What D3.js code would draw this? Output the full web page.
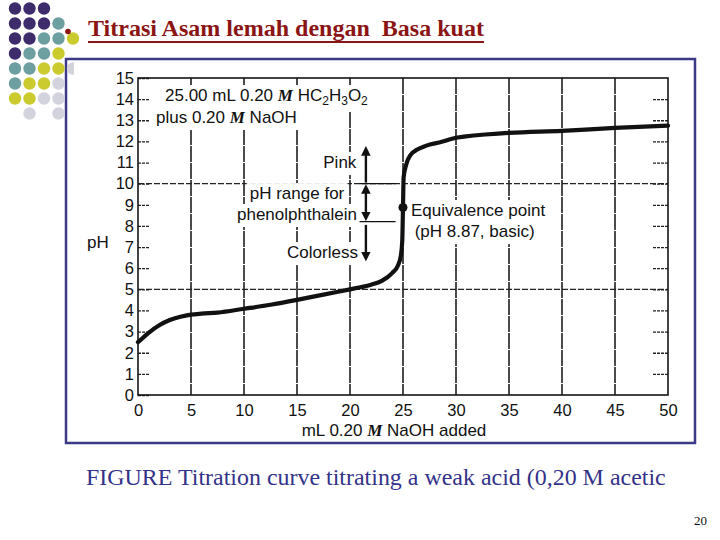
<!DOCTYPE html>
<html><head><meta charset="utf-8">
<script src="https://cdn.jsdelivr.net/npm/d3@7"></script>
<style>body{margin:0;background:#fff} svg{display:block}</style>
</head><body>
<svg id="c" width="720" height="540"></svg>
<script>
// ---- data ----
const naohAdded = [0, 0.5, 1, 2, 3, 4, 5, 6, 7.5, 10, 12.5, 15, 17.5, 20, 21, 22, 23, 24, 24.5, 24.8, 24.93, 25, 25.06, 25.3, 25.7, 26.3, 27.2, 28.5, 30, 35, 40, 45, 50];
const pHValues  = [2.5, 2.72, 2.94, 3.3, 3.55, 3.7, 3.8, 3.85, 3.9, 4.08, 4.27, 4.5, 4.75, 5.0, 5.1, 5.22, 5.4, 5.78, 6.1, 6.6, 7.3, 8.87, 10.3, 10.9, 11.35, 11.6, 11.8, 11.96, 12.17, 12.4, 12.5, 12.64, 12.75];
const xTickValues = [0, 5, 10, 15, 20, 25, 30, 35, 40, 45, 50];
const yTickValues = [0, 1, 2, 3, 4, 5, 6, 7, 8, 9, 10, 11, 12, 13, 14, 15];
const xGridValues = [5, 10, 15, 20, 25, 30, 35, 40, 45];
const yGridValues = [5, 10];
const equivalencePoint = [25, 8.87];
const indicatorRange = [8.2, 10];

const titleText = "Titrasi Asam lemah dengan  Basa kuat";
const captionText = "FIGURE Titration curve titrating a weak acid (0,20 M acetic";
const pageNumber = "20";

const svg = d3.select("#c");
const SANS = "'Liberation Sans', Arial, sans-serif";
const SERIF = "'Liberation Serif', 'Times New Roman', serif";

function fit(sel, target) {
  const w = sel.node().getComputedTextLength();
  const fs = parseFloat(sel.attr("font-size"));
  sel.attr("font-size", fs * target / w);
}

// ---- slide frame ----
svg.append("rect").attr("x", 66).attr("y", 59).attr("width", 629).attr("height", 384)
  .attr("fill", "#fff").attr("stroke", "#3c3a86").attr("stroke-width", 2.5);

// ---- decorative dot grid ----
const dotPattern = ["PPP..", "PPPT.", "PPTTY", "PTTY.", "TTYYL", "TYYL.", "YYLL.", ".L.L."];
const dotColors = {P: "#3d2b6c", T: "#6d9fa0", Y: "#cbcb2f", L: "#d3d3de"};
const dots = [];
dotPattern.forEach((row, r) => row.split("").forEach((c, k) => { if (c !== ".") dots.push({r, k, c}); }));
svg.append("g").selectAll("circle").data(dots).join("circle")
  .attr("cx", d => 15 + d.k * 14.5).attr("cy", d => 8.5 + d.r * 15)
  .attr("r", 6.2).attr("fill", d => dotColors[d.c]);
// scanned chart image covers part of the grid
svg.append("rect").attr("x", 74).attr("y", 61).attr("width", 619).attr("height", 380).attr("fill", "#fff");

// ---- title ----
svg.append("circle").attr("cx", 68).attr("cy", 31.5).attr("r", 2.8).attr("fill", "#8b1414");
const title = svg.append("text").attr("x", 88).attr("y", 36)
  .attr("font-family", SERIF).attr("font-weight", "bold").attr("font-size", 20)
  .attr("fill", "#8b1414").style("white-space", "pre").text(titleText);
fit(title, 396);
svg.append("line").attr("x1", 88).attr("x2", 484).attr("y1", 42).attr("y2", 42)
  .attr("stroke", "#8b1414").attr("stroke-width", 1.8);

// ---- chart ----
const x = d3.scaleLinear().domain([0, 50]).range([138, 668]);
const y = d3.scaleLinear().domain([0, 15]).range([395, 78]);
const g = svg.append("g");

// gridlines
g.selectAll(".vg").data(xGridValues).join("line")
  .attr("x1", d => x(d)).attr("x2", d => x(d)).attr("y1", y(15)).attr("y2", y(0))
  .attr("stroke", "#111").attr("stroke-width", 1.5).attr("stroke-dasharray", "16,1");
g.selectAll(".hg").data(yGridValues).join("line")
  .attr("x1", x(0)).attr("x2", x(50)).attr("y1", d => y(d)).attr("y2", d => y(d))
  .attr("stroke", "#222").attr("stroke-width", 1.3).attr("stroke-dasharray", "6,2");
const knock = g.append("g");

// axes
const left = g.append("g").attr("transform", `translate(${x(0)},0)`)
  .call(d3.axisLeft(y).tickValues(yTickValues).tickSizeInner(-12).tickSizeOuter(0).tickPadding(4));
const right = g.append("g").attr("transform", `translate(${x(50)},0)`)
  .call(d3.axisRight(y).tickValues(yTickValues.filter(v => v > 0 && v < 15)).tickSizeInner(-16).tickSizeOuter(0).tickFormat(""));
const bottom = g.append("g").attr("transform", `translate(0,${y(0)})`)
  .call(d3.axisBottom(x).tickValues(xTickValues).tickSize(0).tickPadding(9));
[left, right, bottom].forEach(a => {
  a.select(".domain").remove();
  a.selectAll(".tick line").attr("stroke", "#222").attr("stroke-width", 1.3).attr("stroke-dasharray", "3,1");
  a.selectAll(".tick text").attr("font-family", SANS).attr("font-size", 16.5).attr("fill", "#111");
});

// plot border
g.append("rect").attr("x", x(0)).attr("y", y(15)).attr("width", x(50) - x(0)).attr("height", y(0) - y(15))
  .attr("fill", "none").attr("stroke", "#151515").attr("stroke-width", 1.6);

// titration curve
const pts = naohAdded.map((v, i) => [v, pHValues[i]]);
g.append("path").datum(pts)
  .attr("d", d3.line().x(d => x(d[0])).y(d => y(d[1])).curve(d3.curveMonotoneX))
  .attr("fill", "none").attr("stroke", "#111").attr("stroke-width", 4.2)
  .attr("stroke-linecap", "round").attr("stroke-linejoin", "round");
g.append("circle").attr("cx", x(equivalencePoint[0])).attr("cy", y(equivalencePoint[1]))
  .attr("r", 4.5).attr("fill", "#111");

// indicator range markings
g.selectAll(".rl").data(indicatorRange).join("line")
  .attr("x1", x(20.9)).attr("x2", x(24.3)).attr("y1", d => y(d)).attr("y2", d => y(d))
  .attr("stroke", "#111").attr("stroke-width", 1.3);

const defs = svg.append("defs");
defs.append("marker").attr("id", "ah").attr("viewBox", "0 0 10 10").attr("refX", 5).attr("refY", 5)
  .attr("markerWidth", 4).attr("markerHeight", 4).attr("orient", "auto-start-reverse").attr("markerUnits", "strokeWidth")
  .append("path").attr("d", "M0,0 L10,5 L0,10 Z").attr("fill", "#111");
const ax = x(21.5);
function arrow(p1, p2, both) {
  const l = g.append("line").attr("x1", ax).attr("x2", ax).attr("y1", y(p1)).attr("y2", y(p2))
    .attr("stroke", "#111").attr("stroke-width", 2.4).attr("marker-end", "url(#ah)");
  if (both) l.attr("marker-start", "url(#ah)");
}
arrow(10.05, 11.55, false);
arrow(9.75, 8.45, true);
arrow(8.05, 6.55, false);

// annotation text (with white knock-out behind, as in the scanned figure)
const annotations = [];
function ann(xv, yv, anchor) {
  const t = g.append("text").attr("x", x(xv)).attr("y", y(yv)).attr("dy", "0.36em")
    .attr("text-anchor", anchor).attr("font-family", SANS).attr("font-size", 17).attr("fill", "#111");
  annotations.push(t);
  return t;
}
function italicM(t) {
  t.append("tspan").attr("font-family", SERIF).attr("font-style", "italic").attr("font-weight", "bold").text("M");
}
const a1 = ann(2.55, 14.2, "start");
a1.append("tspan").text("25.00 mL 0.20 ");
italicM(a1);
a1.append("tspan").text(" HC");
a1.append("tspan").attr("font-size", 12).attr("dy", 4).text("2");
a1.append("tspan").attr("dy", -4).text("H");
a1.append("tspan").attr("font-size", 12).attr("dy", 4).text("3");
a1.append("tspan").attr("dy", -4).text("O");
a1.append("tspan").attr("font-size", 12).attr("dy", 4).text("2");
const a2 = ann(1.7, 13.16, "start");
a2.append("tspan").text("plus 0.20 ");
italicM(a2);
a2.append("tspan").text(" NaOH");

ann(20.6, 11.03, "end").text("Pink");
ann(15.0, 9.56, "middle").text("pH range for");
ann(15.0, 8.57, "middle").text("phenolphthalein");
ann(20.75, 6.77, "end").text("Colorless");
ann(25.75, 8.76, "start").text("Equivalence point");
ann(26.1, 7.76, "start").text(`(pH ${equivalencePoint[1].toFixed(2)}, basic)`);

annotations.forEach(t => {
  const b = t.node().getBBox();
  knock.append("rect").attr("x", b.x - 3).attr("y", b.y - 1).attr("width", b.width + 6).attr("height", b.height + 4)
    .attr("fill", "#fff");
});

// axis titles
ann(-4.8, 7.25, "start").text("pH");
const xt = g.append("text").attr("x", 394).attr("y", y(0) + 41).attr("text-anchor", "middle")
  .attr("font-family", SANS).attr("font-size", 17).attr("fill", "#111");
xt.append("tspan").text("mL 0.20 ");
italicM(xt);
xt.append("tspan").text(" NaOH added");

// ---- caption & page number ----
const cap = svg.append("text").attr("x", 86).attr("y", 485).attr("font-family", SERIF)
  .attr("font-size", 21).attr("fill", "#333389").text(captionText);
fit(cap, 580);
svg.append("text").attr("x", 707).attr("y", 525).attr("text-anchor", "end").attr("font-family", SERIF)
  .attr("font-size", 13).attr("fill", "#111").text(pageNumber);
</script>
</body></html>
